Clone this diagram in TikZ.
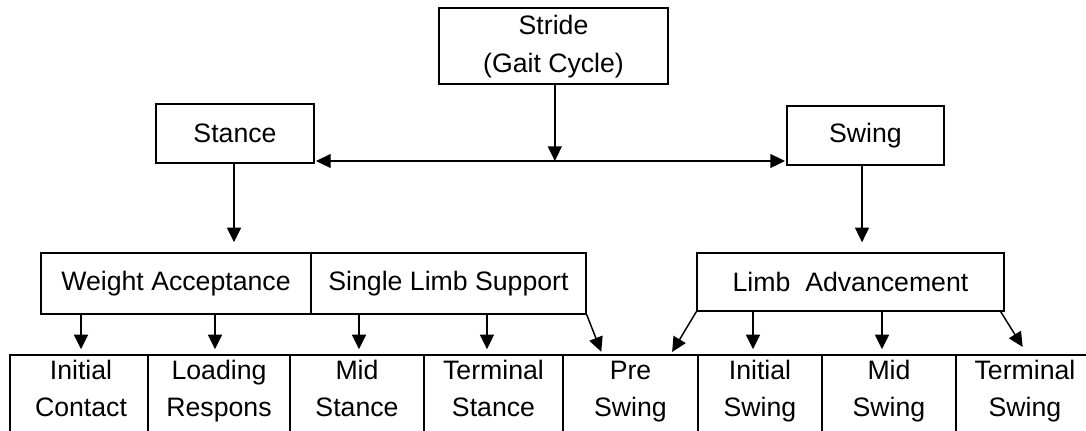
\documentclass[tikz,border=0pt]{standalone}
\usepackage{fontspec}
\setmainfont{Liberation Sans}
\usetikzlibrary{arrows.meta}
\tikzset{
  gb/.style={draw, line width=1.1pt, rectangle, inner sep=0pt, align=center,
    font=\fontsize{20pt}{28pt}\selectfont},
  lbl/.style={inner sep=0pt, align=center, font=\fontsize{20pt}{28pt}\selectfont},
  arr/.style={line width=1.1pt, -{Triangle[length=11pt,width=10.5pt]}},
  darr/.style={line width=1.1pt, {Triangle[length=11pt,width=10.5pt]}-{Triangle[length=11pt,width=10.5pt]}},
}
\newcommand\gbox[6]{\node[gb,minimum width={(#4-#2)*0.75pt},minimum height={(#5-#3)*0.75pt}] (#1) at ({(#2+#4)/2},{(#3+#5)/2}) {#6};}
\newcommand\twol[2]{#1\strut\\#2\strut}
\begin{document}
\begin{tikzpicture}[x=0.75pt,y=-0.75pt]
\useasboundingbox (0,0) rectangle (1086,430);
\clip (0,0) rectangle (1086,430);
% top levels
\gbox{stride}{439}{8}{668}{84}{\twol{Stride}{(Gait Cycle)}}
\gbox{stance}{156}{104}{314}{163}{Stance}
\gbox{swing}{787}{106}{944}{165}{Swing}
\gbox{wa}{41}{253}{311}{314}{Weight Acceptance}
\gbox{sls}{311}{253}{586}{314}{Single Limb Support}
\gbox{la}{697}{253}{1004}{311}{Limb\ \ Advancement}
% bottom row
\gbox{ic}{10}{355}{148}{445}{}
\gbox{lr}{148}{355}{290}{445}{}
\gbox{ms}{290}{355}{424}{445}{}
\gbox{ts}{424}{355}{563}{445}{}
\gbox{ps}{563}{355}{698}{445}{}
\gbox{is}{698}{355}{822}{445}{}
\gbox{mw}{822}{355}{956}{445}{}
\gbox{tw}{956}{355}{1100}{445}{}
\node[lbl] (ic-t) at (81,390.5) {\twol{Initial}{Contact}};
\node[lbl] (lr-t) at (219,390.5) {\twol{Loading}{Respons}};
\node[lbl] (ms-t) at (357,390.5) {\twol{Mid}{Stance}};
\node[lbl] (ts-t) at (493.5,390.5) {\twol{Terminal}{Stance}};
\node[lbl] (ps-t) at (630.5,390.5) {\twol{Pre}{Swing}};
\node[lbl] (is-t) at (760,390.5) {\twol{Initial}{Swing}};
\node[lbl] (mw-t) at (889,390.5) {\twol{Mid}{Swing}};
\node[lbl] (tw-t) at (1025,390.5) {\twol{Terminal}{Swing}};
% connectors
\coordinate (hm) at (555,161);
\draw[arr] ([xshift=1pt]stride.south) -- ([xshift=1pt]stride.south |- hm);
\draw[darr, shorten <=1pt, shorten >=1pt] (stance.east |- hm) -- (swing.west |- hm);
\draw[arr, shorten >=7.5pt] ([xshift=-0.75pt]stance.south) -- ([xshift=-0.75pt]stance.south |- wa.north);
\draw[arr, shorten >=7.5pt] ([xshift=-2.6pt]swing.south) -- ([xshift=-2.6pt]swing.south |- la.north);
\draw[arr, shorten >=3.75pt] ([xshift=1.5pt]ic.north |- wa.south) -- ([xshift=1.5pt]ic.north);
\draw[arr, shorten >=3.75pt] ([xshift=-3pt]lr.north |- wa.south) -- ([xshift=-3pt]lr.north);
\draw[arr, shorten >=3.75pt] ([xshift=1.5pt]ms.north |- sls.south) -- ([xshift=1.5pt]ms.north);
\draw[arr, shorten >=3.75pt] ([xshift=-4.9pt]ts.north |- sls.south) -- ([xshift=-4.9pt]ts.north);
\draw[arr, shorten >=2pt] (sls.south east) -- ([xshift=30pt]ps.north west);
\draw[arr, shorten >=2pt] (la.south west) -- ([xshift=-21pt]ps.north east);
\draw[arr, shorten >=3.75pt] ([xshift=-5.25pt]is.north |- la.south) -- ([xshift=-5.25pt]is.north);
\draw[arr, shorten >=3.75pt] ([xshift=-5.25pt]mw.north |- la.south) -- ([xshift=-5.25pt]mw.north);
\draw[arr, shorten >=6.5pt] ([xshift=-3pt]la.south east) -- ([xshift=54pt]tw.north west);
\end{tikzpicture}
\end{document}
